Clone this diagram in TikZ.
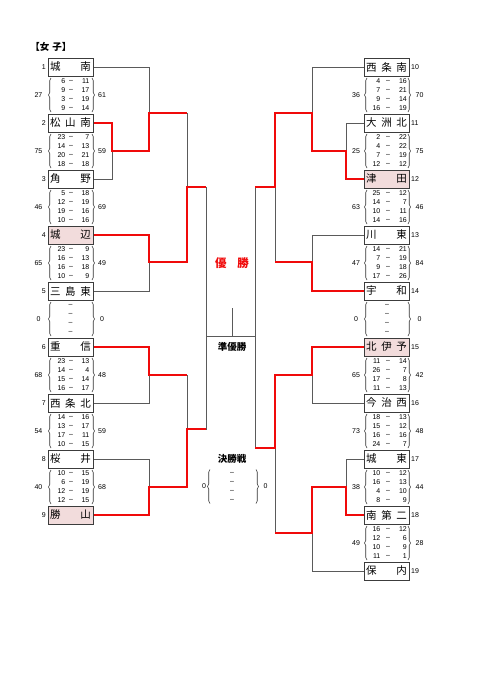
\documentclass[tikz,border=0pt]{standalone}
\usepackage{fontspec}
\setmainfont{Liberation Sans}
\newfontfamily\jpfont{Noto Sans CJK JP}
\usepackage{xcolor}
\usepackage{tikz}
\usetikzlibrary{positioning,backgrounds,decorations.pathreplacing}
\definecolor{bkline}{RGB}{90,90,90}
\definecolor{boxgray}{RGB}{60,60,60}
\definecolor{winred}{RGB}{240,10,10}
\definecolor{seedpink}{RGB}{242,220,220}

\begin{document}
\begin{tikzpicture}[
    x=1pt, y=-1pt,
    team/.style={rectangle, draw=boxgray, line width=0.9pt, fill=white, minimum width=45pt, minimum height=18pt, inner sep=2pt, text width=41pt, align=left, font=\jpfont\fontsize{10.5}{12}\selectfont},
    seed/.style={team, fill=seedpink},
    num/.style={inner sep=0pt, font=\fontsize{7}{8}\selectfont},
    brc/.style={decorate, decoration={brace, amplitude=2.5pt}, draw=black!80, line width=0.6pt},
    lose/.style={draw=bkline, line width=0.9pt},
    win/.style={draw=winred, line width=2.2pt},
    lbl/.style={inner sep=0pt, font=\jpfont\bfseries\fontsize{9.5}{11}\selectfont}
]
\useasboundingbox (0,0) rectangle (481,680);

% Title
\node[lbl] (ttl) at (51,47) {【女\hspace{3pt}子】};

% Teams left
\foreach \k/\st/\nm in {1/team/{城\hfill 南}, 2/team/{松\hfill 山\hfill 南}, 3/team/{角\hfill 野},
    4/seed/{城\hfill 辺}, 5/team/{三\hfill 島\hfill 東}, 6/team/{重\hfill 信},
    7/team/{西\hfill 条\hfill 北}, 8/team/{桜\hfill 井}, 9/seed/{勝\hfill 山}} {
    \node[\st] (t\k) at (70.5,{11+56*\k}) {\nm};
    \node[num, left=1.5pt of t\k] (r\k) {\k};
}

% Teams right
\foreach \k/\st/\nm in {10/team/{西\hfill 条\hfill 南}, 11/team/{大\hfill 洲\hfill 北}, 12/seed/{津\hfill 田},
    13/team/{川\hfill 東}, 14/team/{宇\hfill 和}, 15/seed/{北\hfill 伊\hfill 予},
    16/team/{今\hfill 治\hfill 西}, 17/team/{城\hfill 東}, 18/team/{南\hfill 第\hfill 二}, 19/team/{保\hfill 内}} {
    \node[\st] (t\k) at (386.5,{67+56*(\k-10)}) {\nm};
    \node[num, right=1.5pt of t\k] (r\k) {\k};
}

% Scores left
\foreach \k/\lt/\rt/\rows in {1/27/61/{6/11,9/17,3/19,9/14}, 2/75/59/{23/7,14/13,20/21,18/18},
    3/46/69/{5/18,12/19,19/16,10/16}, 4/65/49/{23/9,16/13,16/18,10/9},
    6/68/48/{23/13,14/4,15/14,16/17}, 7/54/59/{14/16,13/17,17/11,10/15},
    8/40/68/{10/15,6/19,12/19,12/15}} {
    \node[num] (la\k) at (38.5,{39+56*\k}) {\lt};
    \node[num] (lb\k) at (102,{39+56*\k}) {\rt};
    \draw[brc] (51,{56+56*\k}) -- (51,{22+56*\k});
    \draw[brc] (92,{22+56*\k}) -- (92,{56+56*\k});
    \foreach \p/\q [count=\r] in \rows {
        \node[num, anchor=east] (lp\k-\r) at (65.5,{16.5+56*\k+9*\r}) {\p};
        \node[num] (ld\k-\r) at (71,{16.5+56*\k+9*\r}) {--};
        \node[num, anchor=east] (lq\k-\r) at (89.5,{16.5+56*\k+9*\r}) {\q};
    }
}

% Scores right
\foreach \k/\lt/\rt/\rows in {10/36/70/{4/16,7/21,9/14,16/19}, 11/25/75/{2/22,4/22,7/19,12/12},
    12/63/46/{25/12,14/7,10/11,14/16}, 13/47/84/{14/21,7/19,9/18,17/26},
    15/65/42/{11/14,26/7,17/8,11/13}, 16/73/48/{18/13,15/12,16/16,24/7},
    17/38/44/{10/12,16/13,4/10,8/9}, 18/49/28/{16/12,12/6,10/9,11/1}} {
    \node[num] (ra\k) at (356,{95+56*(\k-10)}) {\lt};
    \node[num] (rb\k) at (419.5,{95+56*(\k-10)}) {\rt};
    \draw[brc] (367,{112+56*(\k-10)}) -- (367,{78+56*(\k-10)});
    \draw[brc] (408,{78+56*(\k-10)}) -- (408,{112+56*(\k-10)});
    \foreach \p/\q [count=\r] in \rows {
        \node[num, anchor=east] (rp\k-\r) at (380.5,{72.5+56*(\k-10)+9*\r}) {\p};
        \node[num] (rd\k-\r) at (388,{72.5+56*(\k-10)+9*\r}) {--};
        \node[num, anchor=east] (rq\k-\r) at (407,{72.5+56*(\k-10)+9*\r}) {\q};
    }
}

% Empty blocks
\foreach \nm/\cx/\cy/\bl/\br/\zl/\zr in {le/70.5/319/51/92/38.5/102, re/387/319/367/408/356/419.5,
    fe/232/486.5/210/256/204/265.5} {
    \node[num] (\nm a) at (\zl,\cy) {0};
    \node[num] (\nm b) at (\zr,\cy) {0};
    \draw[brc] (\bl,{\cy+17}) -- (\bl,{\cy-17});
    \draw[brc] (\br,{\cy-17}) -- (\br,{\cy+17});
    \foreach \r in {1,...,4}
        \node[num] (\nm d\r) at (\cx,{\cy-22.5+9*\r}) {--};
}

% Labels
\node[lbl, text=winred, font=\jpfont\bfseries\fontsize{11.5}{13}\selectfont] (yu) at (232,263) {優\hspace{11pt}勝};
\node[lbl] (ju) at (232,347) {準優勝};
\node[lbl] (ke) at (232,459) {決勝戦};

% Junctions
\coordinate (m1) at (112,151);
\coordinate (m2) at (149,113);
\coordinate (m3) at (149,262);
\coordinate (m4) at (187,187);
\coordinate (m5) at (149,375);
\coordinate (m6) at (149,487);
\coordinate (m7) at (187,429);
\coordinate (fl) at (206,336);
\coordinate (n1) at (346,151);
\coordinate (n2) at (312,113);
\coordinate (n3) at (312,262);
\coordinate (n4) at (275,187);
\coordinate (n5) at (312,375);
\coordinate (n6) at (346,487);
\coordinate (n7) at (312,533);
\coordinate (n8) at (275,448);
\coordinate (fr) at (255,336);
\coordinate (ch) at (232,308);

\begin{scope}[on background layer]
% Bracket
\foreach \a/\b in {t2.east/m1, t3.east/m1, t1.east/m2, m1/m2, t4.east/m3, t5.east/m3, m2/m4, m3/m4,
    t6.east/m5, t7.east/m5, t8.east/m6, t9.east/m6, m5/m7, m6/m7, m4/fl, m7/fl,
    t11.west/n1, t12.west/n1, t10.west/n2, n1/n2, t13.west/n3, t14.west/n3, n2/n4, n3/n4,
    t15.west/n5, t16.west/n5, t17.west/n6, t18.west/n6, n6/n7, t19.west/n7, n5/n8, n7/n8, n4/fr, n8/fr}
    \draw[lose] (\a) -| (\b);
\draw[lose] (fl) -- (fr);
\draw[lose] (fl -| ch) -- (ch);

% Winners
\draw[win] (t2.east) -| (m1) -| (m2) -- (m2 -| m4);
\draw[win] (t4.east) -| (m3) -| (m4) -- (m4 -| fl);
\draw[win] (t6.east) -| (m5) -- (m5 -| m7);
\draw[win] (t9.east) -| (m6) -| (m7) -- (m7 -| fl);
\draw[win] (t12.west) -| (n1) -| (n2) -| (n4) -- (n4 -| fr);
\draw[win] (t14.west) -| (n3) -- (n3 -| n4);
\draw[win] (t15.west) -| (n5) -| (n8) -- (n8 -| fr);
\draw[win] (t18.west) -| (n6) -| (n7) -- (n7 -| n8);
\end{scope}

\end{tikzpicture}
\end{document}
